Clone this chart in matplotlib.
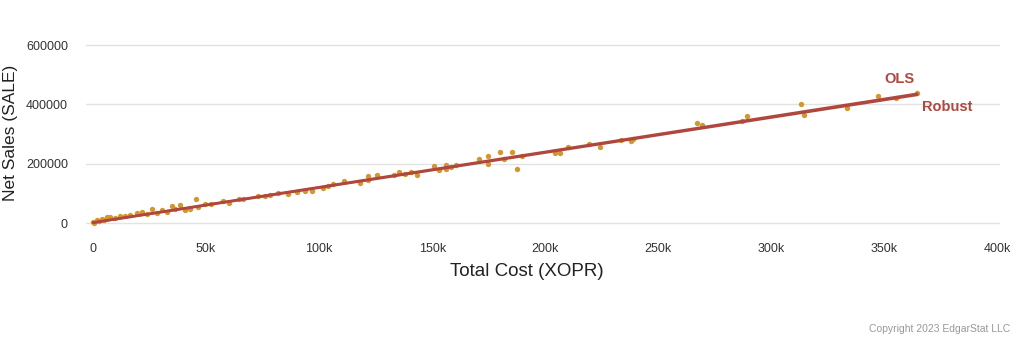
import matplotlib.pyplot as plt
import numpy as np

plt.rcParams["font.family"] = ["Liberation Sans", "DejaVu Sans"]

# Firm-level observations: total cost (XOPR) vs net sales (SALE), in dollars
total_cost = [
    100, 600, 1600, 2500, 3800, 5000, 6000, 7500, 9700, 11900, 14200, 16400,
    19300, 21500, 23700, 26200, 28200, 30400, 32600, 34800, 36300, 38500,
    40700, 42900, 45600, 46600, 49600, 52200,
    57700, 60300, 64700, 66500, 73100, 76100, 78300, 82000, 86400, 90100,
    93800, 96800, 101900, 104100, 106300,
    110800, 118100, 121800, 121800, 125500, 133300, 135100, 138000, 140700,
    143200, 151000, 153200, 156200, 156200, 158400, 160600,
    170500, 174600, 174600, 179800, 181600, 185500, 187700, 189800, 204400,
    206300, 210000, 219200, 224200, 233600, 237900, 239000, 267100, 269300,
    287000, 289200, 313100, 314300, 333500, 347000, 355300, 364500,
]
net_sales = [
    4400, 2000, 10000, 9000, 15800, 12000, 21000, 21000, 19000, 23600, 24700,
    29000, 36000, 39400, 32600, 48000, 34700, 43800, 39400, 57300, 49500,
    60700, 46000, 49500, 82000, 55000, 64000, 66400,
    75000, 68000, 80000, 83000, 91000, 92000, 94000, 102000, 100000, 103500,
    109000, 109000, 120000, 124700, 131500,
    142600, 137000, 158000, 145000, 161800, 161800, 171000, 165000, 174000,
    164000, 192000, 178700, 194500, 181000, 187800, 196500,
    214700, 225900, 201000, 239000, 214700, 239000, 181000, 228000, 235000,
    238000, 257000, 267000, 257000, 280000, 276000, 282000, 337000, 330000,
    345000, 360700, 400000, 366000, 388700, 428000, 422000, 437000,
]

# Fitted regression lines (endpoints over the observed cost range)
fit_x = [0, 364500]
ols_y = [2500, 436000]
robust_y = [1500, 432000]

x_ticks = [0, 50000, 100000, 150000, 200000, 250000, 300000, 350000, 400000]
x_tick_labels = ["0", "50k", "100k", "150k", "200k", "250k", "300k", "350k", "400k"]
y_ticks = [0, 200000, 400000, 600000]
y_tick_labels = ["0", "200000", "400000", "600000"]

point_color = "#D4972F"
line_color = "#B0473F"
text_color = "#333333"

fig = plt.figure(figsize=(10.24, 3.37), dpi=100)
ax = fig.add_axes([0.084, 0.320, 0.893, 0.564])

ax.scatter(total_cost, net_sales, s=15, color=point_color, linewidths=0, zorder=3)
ax.plot(fit_x, ols_y, color=line_color, lw=1.8, zorder=4, solid_capstyle="round")
ax.plot(fit_x, robust_y, color=line_color, lw=1.8, zorder=4, solid_capstyle="round")

ax.text(fit_x[1] - 8000, ols_y[1] + 48000, "OLS", color=line_color,
        fontsize=10.5, fontweight="bold", ha="center", va="center")
ax.text(fit_x[1] + 2000, robust_y[1] - 40000, "Robust", color=line_color,
        fontsize=10.5, fontweight="bold", ha="left", va="center")

ax.set_xlim(-3100, 401300)
ax.set_ylim(-20000, 620000)
ax.set_xticks(x_ticks)
ax.set_xticklabels(x_tick_labels)
ax.set_yticks(y_ticks)
ax.set_yticklabels(y_tick_labels)
ax.tick_params(axis="both", length=0, labelsize=9, labelcolor=text_color)
ax.tick_params(axis="x", pad=10)
ax.tick_params(axis="y", pad=13)

ax.grid(axis="y", color="#E3E3E3", lw=1)
ax.set_axisbelow(True)
for side in ["top", "right", "bottom", "left"]:
    ax.spines[side].set_visible(False)

# axis titles placed in figure coordinates
fig.text(527 / 1024, 1 - 271 / 337, "Total Cost (XOPR)", fontsize=13.5,
         color="#222222", ha="center", va="center")
fig.text(11 / 1024, 1 - 133 / 337, "Net Sales (SALE)", fontsize=12.5,
         color="#222222", ha="center", va="center", rotation=90)

fig.text(0.987, 0.024, "Copyright 2023 EdgarStat LLC", fontsize=7.5,
         color="#999999", ha="right", va="center")

fig.savefig("out.png", dpi=100)
